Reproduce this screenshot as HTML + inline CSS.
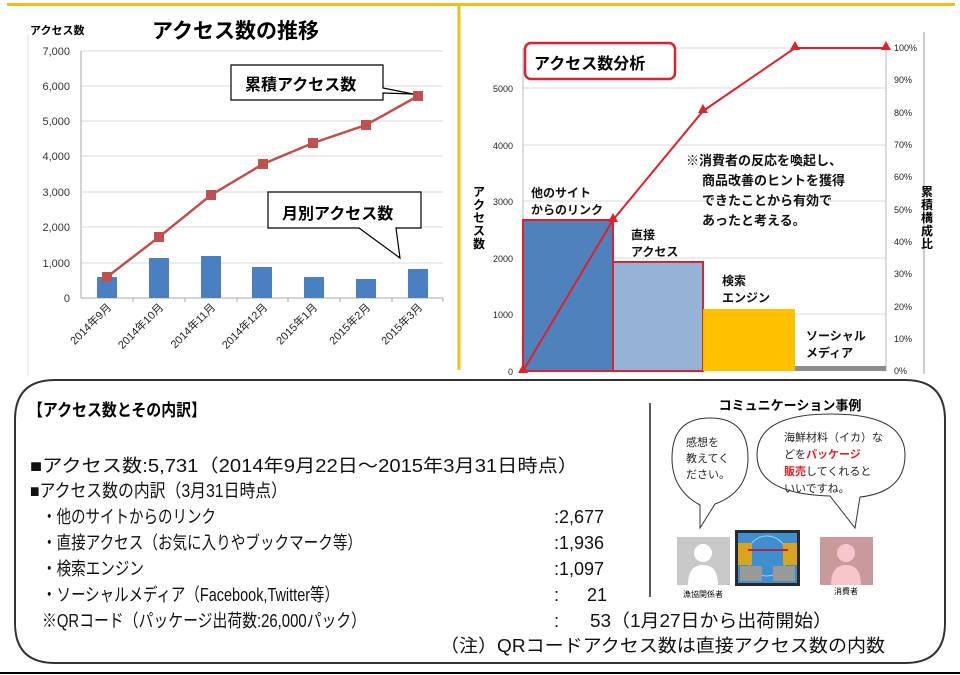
<!DOCTYPE html>
<html><head><meta charset="utf-8"><style>
html,body{margin:0;padding:0;background:#fff;}
svg{display:block;font-family:"Liberation Sans","Noto Sans CJK JP",sans-serif;}
.b{font-weight:bold;}
</style></head><body>
<svg width="960" height="675" viewBox="0 0 960 675" xmlns="http://www.w3.org/2000/svg">
<line x1="7" y1="4.5" x2="955" y2="4.5" stroke="#f2bf1a" stroke-width="3"/>
<line x1="459" y1="5" x2="459" y2="370" stroke="#f2bf1a" stroke-width="3"/>
<line x1="28" y1="35" x2="28" y2="376" stroke="#ddd" stroke-width="1"/>

<text x="30" y="34" font-size="11" class="b">アクセス数</text>
<text x="152" y="38" font-size="21" class="b">アクセス数の推移</text>
<g stroke="#d9d9d9" stroke-width="1">
<line x1="81" y1="51" x2="443" y2="51"/><line x1="81" y1="86" x2="443" y2="86"/>
<line x1="81" y1="121" x2="443" y2="121"/><line x1="81" y1="156" x2="443" y2="156"/>
<line x1="81" y1="192" x2="443" y2="192"/><line x1="81" y1="227" x2="443" y2="227"/>
<line x1="81" y1="263" x2="443" y2="263"/>
</g>
<line x1="81" y1="51" x2="81" y2="298" stroke="#aaa"/>
<line x1="81" y1="298" x2="443" y2="298" stroke="#aaa"/>
<g stroke="#aaa"><line x1="133" y1="298" x2="133" y2="302"/><line x1="185" y1="298" x2="185" y2="302"/><line x1="237" y1="298" x2="237" y2="302"/><line x1="288" y1="298" x2="288" y2="302"/><line x1="340" y1="298" x2="340" y2="302"/><line x1="392" y1="298" x2="392" y2="302"/><line x1="443" y1="298" x2="443" y2="302"/></g>
<g font-size="11" text-anchor="end" fill="#333">
<text x="70" y="55">7,000</text><text x="70" y="90">6,000</text><text x="70" y="125">5,000</text>
<text x="70" y="160">4,000</text><text x="70" y="196">3,000</text><text x="70" y="231">2,000</text>
<text x="70" y="267">1,000</text><text x="70" y="302">0</text>
</g>
<g fill="#4a7fc1">
<rect x="97" y="277" width="20" height="21"/><rect x="149" y="258" width="20" height="40"/>
<rect x="201" y="256" width="20" height="42"/><rect x="252" y="267" width="20" height="31"/>
<rect x="304" y="277" width="20" height="21"/><rect x="356" y="279" width="20" height="19"/>
<rect x="408" y="269" width="20" height="29"/>
</g>
<polyline points="107,277 159,237 211,195 263,164 313,143 366,125 418,96" fill="none" stroke="#c0504d" stroke-width="2.5"/>
<g fill="#c0504d">
<rect x="102" y="272" width="10" height="10"/><rect x="154" y="232" width="10" height="10"/>
<rect x="206" y="190" width="10" height="10"/><rect x="258" y="159" width="10" height="10"/>
<rect x="308" y="138" width="10" height="10"/><rect x="361" y="120" width="10" height="10"/>
<rect x="413" y="91" width="10" height="10"/>
</g>
<g font-size="11" fill="#222">
<text transform="translate(112,308) rotate(-45)" text-anchor="end">2014年9月</text>
<text transform="translate(164,308) rotate(-45)" text-anchor="end">2014年10月</text>
<text transform="translate(216,308) rotate(-45)" text-anchor="end">2014年11月</text>
<text transform="translate(268,308) rotate(-45)" text-anchor="end">2014年12月</text>
<text transform="translate(318,308) rotate(-45)" text-anchor="end">2015年1月</text>
<text transform="translate(371,308) rotate(-45)" text-anchor="end">2015年2月</text>
<text transform="translate(423,308) rotate(-45)" text-anchor="end">2015年3月</text>
</g>
<path d="M231,65 H383 V88 L413,94 L383,93 V100 H231 Z" fill="#fff" stroke="#000" stroke-width="1.2"/>
<text x="245" y="90" font-size="16" class="b">累積アクセス数</text>
<path d="M268,192 H421 V228 H396 L400,258 L359,228 H268 Z" fill="#fff" stroke="#000" stroke-width="1.2"/>
<text x="282" y="219" font-size="16" class="b">月別アクセス数</text>

<g stroke="#d9d9d9">
<line x1="523" y1="48" x2="886" y2="48"/><line x1="523" y1="88" x2="886" y2="88"/>
<line x1="523" y1="145" x2="886" y2="145"/><line x1="523" y1="201" x2="886" y2="201"/>
<line x1="523" y1="258" x2="886" y2="258"/><line x1="523" y1="314" x2="886" y2="314"/>
</g>
<line x1="523" y1="48" x2="523" y2="371" stroke="#bbb"/>
<line x1="886" y1="48" x2="886" y2="371" stroke="#bbb"/>
<line x1="924" y1="32" x2="924" y2="374" stroke="#ccc" stroke-width="2"/>
<g font-size="9" text-anchor="end" fill="#222">
<text x="513" y="92">5000</text><text x="513" y="149">4000</text><text x="513" y="205">3000</text>
<text x="513" y="262">2000</text><text x="513" y="318">1000</text><text x="513" y="375">0</text>
</g>
<g font-size="9" fill="#222">
<text x="894" y="51">100%</text><text x="894" y="83">90%</text><text x="894" y="116">80%</text>
<text x="894" y="148">70%</text><text x="894" y="180">60%</text><text x="894" y="213">50%</text>
<text x="894" y="245">40%</text><text x="894" y="277">30%</text><text x="894" y="310">20%</text>
<text x="894" y="342">10%</text><text x="894" y="374">0%</text>
</g>
<rect x="523" y="220" width="90" height="151" fill="#4f81bd" stroke="#e0202a" stroke-width="2"/>
<rect x="613" y="262" width="90" height="109" fill="#95b3d7" stroke="#e0202a" stroke-width="2"/>
<rect x="703" y="309" width="92" height="62" fill="#ffc000"/>
<rect x="795" y="366" width="91" height="5" fill="#8c8c8c"/>
<polyline points="523,371 613,220 703,111 795,48 886,48" fill="none" stroke="#e0202a" stroke-width="2"/>
<g fill="#e0202a">
<path d="M523,364 l-5,9 h10z"/><path d="M613,213 l-5,9 h10z"/><path d="M703,104 l-5,9 h10z"/>
<path d="M795,41 l-5,9 h10z"/><path d="M886,41 l-5,9 h10z"/>
</g>
<rect x="525" y="43" width="150" height="36" rx="6" fill="#fff" stroke="#e0202a" stroke-width="2.5"/>
<text x="534" y="69" font-size="16" class="b">アクセス数分析</text>
<g font-size="12" class="b" fill="#111">
<text x="531" y="197">他のサイト</text><text x="531" y="214">からのリンク</text>
<text x="631" y="239">直接</text><text x="631" y="256">アクセス</text>
<text x="722" y="285">検索</text><text x="722" y="302">エンジン</text>
<text x="806" y="340">ソーシャル</text><text x="806" y="357">メディア</text>
</g>
<g font-size="13" class="b" fill="#111">
<text x="686" y="165">※消費者の反応を喚起し、</text>
<text x="702" y="185">商品改善のヒントを獲得</text>
<text x="702" y="205">できたことから有効で</text>
<text x="702" y="225">あったと考える。</text>
</g>
<g font-size="12" class="b" text-anchor="middle">
<text x="479" y="196">ア</text><text x="479" y="209">ク</text><text x="479" y="222">セ</text><text x="479" y="235">ス</text><text x="479" y="248">数</text>
<text x="927" y="196">累</text><text x="927" y="209">積</text><text x="927" y="222">構</text><text x="927" y="235">成</text><text x="927" y="248">比</text>
</g>

<path d="M55,380 H905 Q945,380 945,420 V623 Q945,663 905,663 H55 Q15,663 15,623 V420 Q15,380 55,380 Z" fill="#fff" stroke="#333" stroke-width="2"/>
<line x1="0" y1="673" x2="960" y2="673" stroke="#000" stroke-width="2"/>
<text x="28" y="416" font-size="17" class="b" textLength="178" lengthAdjust="spacingAndGlyphs">【アクセス数とその内訳】</text>
<g font-size="18" fill="#111">
<text x="30" y="472" textLength="548" lengthAdjust="spacingAndGlyphs">■アクセス数:5,731（2014年9月22日～2015年3月31日時点）</text>
<text x="30" y="497" textLength="257" lengthAdjust="spacingAndGlyphs">■アクセス数の内訳（3月31日時点）</text>
<text x="42" y="523" textLength="174" lengthAdjust="spacingAndGlyphs">・他のサイトからのリンク</text>
<text x="42" y="549" textLength="320" lengthAdjust="spacingAndGlyphs">・直接アクセス（お気に入りやブックマーク等）</text>
<text x="42" y="575" textLength="102" lengthAdjust="spacingAndGlyphs">・検索エンジン</text>
<text x="42" y="601" textLength="297" lengthAdjust="spacingAndGlyphs">・ソーシャルメディア（Facebook,Twitter等）</text>
<text x="42" y="627" textLength="324" lengthAdjust="spacingAndGlyphs">※QRコード（パッケージ出荷数:26,000パック）</text>
<text x="554" y="523">:2,677</text>
<text x="554" y="549">:1,936</text>
<text x="554" y="575">:1,097</text>
<text x="554" y="601">:</text><text x="607" y="601" text-anchor="end">21</text>
<text x="554" y="627">:</text>
<text x="590" y="627" textLength="242" lengthAdjust="spacingAndGlyphs">53（1月27日から出荷開始）</text>
<text x="440" y="652" textLength="445" lengthAdjust="spacingAndGlyphs">（注）QRコードアクセス数は直接アクセス数の内数</text>
</g>
<line x1="650" y1="403" x2="650" y2="597" stroke="#222" stroke-width="1.5"/>
<text x="790" y="410" font-size="13" class="b" text-anchor="middle">コミュニケーション事例</text>
<path d="M700,505 Q672,490 672,458 Q672,418 710,418 Q748,418 748,458 Q748,492 715,504 L700,528 Z" fill="#fff" stroke="#333" stroke-width="1"/>
<g font-size="11" fill="#222"><text x="686" y="446">感想を</text><text x="686" y="462">教えてく</text><text x="686" y="478">ださい。</text></g>
<path d="M830,496 Q757,494 757,455 Q757,414 831,414 Q905,414 905,455 Q905,492 860,497 L855,528 Z" fill="#fff" stroke="#333" stroke-width="1"/>
<g font-size="11" fill="#222">
<text x="784" y="441">海鮮材料（イカ）な</text>
<text x="784" y="458">どを<tspan fill="#e0202a" font-weight="bold">パッケージ</tspan></text>
<text x="784" y="475"><tspan fill="#e0202a" font-weight="bold">販売</tspan>してくれると</text>
<text x="784" y="492">いいですね。</text>
</g>
<rect x="677" y="537" width="53" height="48" fill="#c8c8c8"/>
<circle cx="703" cy="553" r="9" fill="#fff"/><path d="M688,585 Q688,565 703,565 Q718,565 718,585Z" fill="#fff"/>
<rect x="735" y="530" width="65" height="56" fill="#2a2a2a"/>
<rect x="738" y="533" width="59" height="50" fill="#3d8fd0"/>
<circle cx="767" cy="556" r="20" fill="none" stroke="#9cd0f0"/>
<rect x="738" y="543" width="14" height="22" fill="#d9a520"/><rect x="783" y="543" width="14" height="22" fill="#d9a520"/>
<line x1="748" y1="550" x2="788" y2="550" stroke="#c0203a" stroke-width="2"/>
<rect x="740" y="566" width="22" height="15" fill="#999"/><rect x="773" y="566" width="22" height="15" fill="#999"/>
<rect x="820" y="537" width="53" height="48" fill="#c9999b"/>
<circle cx="846" cy="553" r="9" fill="#f6c6cc"/><path d="M831,585 Q831,565 846,565 Q861,565 861,585Z" fill="#f6c6cc"/>
<text x="703" y="597" font-size="8" text-anchor="middle">漁協関係者</text>
<text x="846" y="594" font-size="8" text-anchor="middle">消費者</text>
</svg>
</body></html>
